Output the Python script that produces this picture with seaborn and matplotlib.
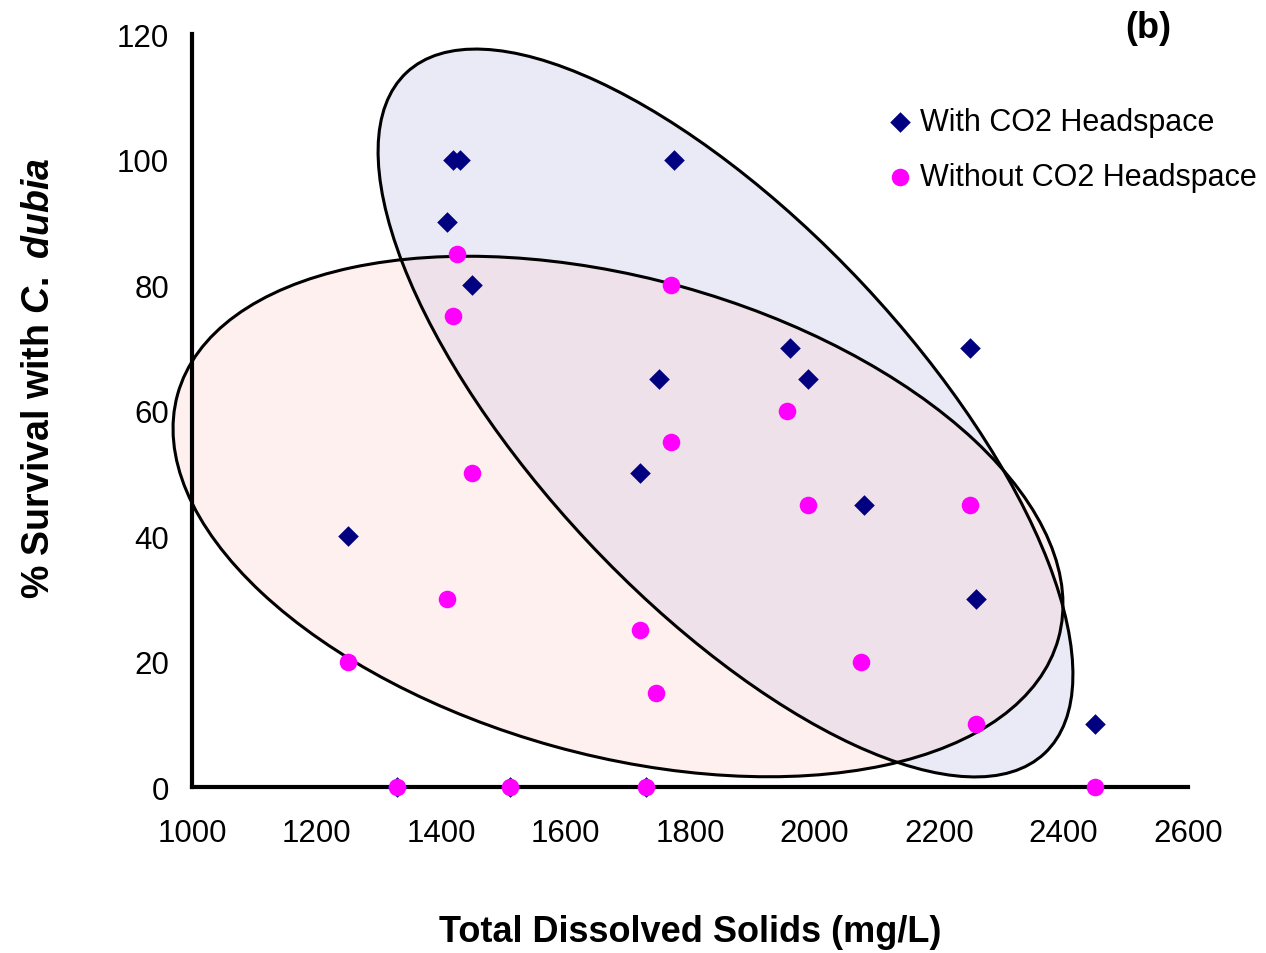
import matplotlib
matplotlib.use("Agg")
import matplotlib.pyplot as plt
from matplotlib.patches import Ellipse
import seaborn as sns

# readings from the figure
tds_with = [1250, 1330, 1410, 1420, 1430, 1450, 1510, 1720, 1730, 1750, 1775,
            1960, 1990, 2080, 2250, 2260, 2450]
surv_with = [40, 0, 90, 100, 100, 80, 0, 50, 0, 65, 100, 70, 65, 45, 70, 30, 10]

tds_without = [1250, 1330, 1410, 1420, 1425, 1450, 1510, 1720, 1730, 1745, 1770,
               1770, 1955, 1990, 2075, 2250, 2260, 2450]
surv_without = [20, 0, 30, 75, 85, 50, 0, 25, 0, 15, 80, 55, 60, 45, 20, 45, 10, 0]

x_ticks = [1000, 1200, 1400, 1600, 1800, 2000, 2200, 2400, 2600]
y_ticks = [0, 20, 40, 60, 80, 100, 120]

sns.set_style("white")
plt.rcParams["font.family"] = ["Liberation Sans", "DejaVu Sans"]
plt.rcParams["text.color"] = "black"
plt.rcParams["axes.labelcolor"] = "black"
plt.rcParams["xtick.color"] = "black"
plt.rcParams["ytick.color"] = "black"
plt.rcParams["mathtext.fontset"] = "custom"
plt.rcParams["mathtext.rm"] = "Liberation Sans:bold"
plt.rcParams["mathtext.it"] = "Liberation Sans:bold:italic"

fig = plt.figure(figsize=(12.66, 9.54), dpi=100)
ax = fig.add_axes([0.1517, 0.174, 0.7867, 0.7893])

# group outlines (pixel geometry, in inches)
blue_ell = Ellipse((7.255, 5.40), 9.33, 3.77, angle=-46.85,
                   transform=fig.dpi_scale_trans, facecolor="#E9EAF6",
                   edgecolor="none", zorder=1, clip_on=False)
pink_ell = Ellipse((6.18, 4.365), 9.14, 4.77, angle=-15.5,
                   transform=fig.dpi_scale_trans, facecolor=(1, 0.78, 0.78, 0.25),
                   edgecolor="none", zorder=1.1, clip_on=False)
ax.add_patch(blue_ell)
ax.add_patch(pink_ell)
for e in (blue_ell, pink_ell):
    ax.add_patch(Ellipse(e.center, e.width, e.height, angle=e.angle,
                         transform=fig.dpi_scale_trans, facecolor="none",
                         edgecolor="black", linewidth=2.2, zorder=1.5, clip_on=False))

sns.scatterplot(x=tds_with, y=surv_with, marker="D", s=110, color="#000080",
                linewidth=0, ax=ax, zorder=3, label="With CO2 Headspace", clip_on=False)
sns.scatterplot(x=tds_without, y=surv_without, marker="o", s=160, color="#FF00FF",
                linewidth=0, ax=ax, zorder=4, label="Without CO2 Headspace", clip_on=False)

ax.set_xlim(1000, 2600)
ax.set_ylim(0, 120)
ax.set_xticks(x_ticks)
ax.set_yticks(y_ticks)
ax.tick_params(axis="both", labelsize=22.5, width=3, length=6.5, direction="out",
               color="black", labelcolor="black")
ax.tick_params(axis="x", pad=16)
ax.tick_params(axis="y", pad=10)
for side in ("top", "right"):
    ax.spines[side].set_visible(False)
for side in ("left", "bottom"):
    ax.spines[side].set_linewidth(3)
    ax.spines[side].set_color("black")
    ax.spines[side].set_zorder(2.5)

ax.set_xlabel("Total Dissolved Solids (mg/L)", fontsize=26, fontweight="bold",
              labelpad=47, color="black")
ax.set_ylabel(r"% Survival with $\it{C.\ dubia}$", fontsize=27, fontweight="bold",
              color="black")
ax.yaxis.set_label_coords(-0.1355, 0.544)

ax.legend(loc="upper left", bbox_to_anchor=(0.677, 0.923), frameon=False,
          fontsize=22, handletextpad=0.05, labelspacing=0.8, borderpad=0,
          handlelength=1.2, labelcolor="black")

fig.text(1148 / 1266, 1 - 28 / 954, "(b)", fontsize=26, fontweight="bold",
         ha="center", va="center", color="black")

fig.savefig("out.png", dpi=100)
plt.close(fig)
